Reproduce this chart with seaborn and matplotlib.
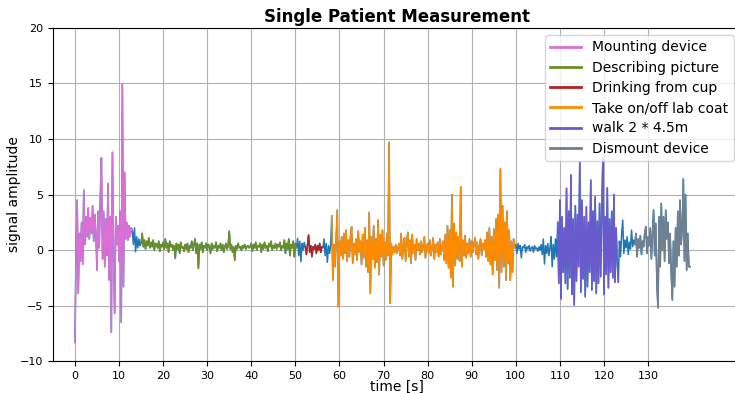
import numpy as np
import matplotlib
matplotlib.use("Agg")
import matplotlib.pyplot as plt
import seaborn as sns

# sampling step of the recording (s)
dt = 0.25

# signal pieces (one value every 0.25 s)
mounting = [-8.3, 0.0, 4.5, -3.9, 1.5, -1.0, 2.5, -1.3, 5.4, 0.5,
            3.0, 1.2, 3.8, 1.0, 2.9, 1.5, 4.0, 0.8, 3.2, 1.4,
            -1.8, 3.5, 0.2, 4.8, 8.3, -0.8, 3.5, -1.5, 2.8, -0.5,
            6.0, -2.7, 3.0, -7.4, 8.8, -0.5, -5.7, 3.0, 0.5, 2.2,
            -1.0, 3.5, -6.5, 14.9, -3.3, 7.0, 1.0, 2.5, 0.9, 2.2,
            1.2, 2.0]
gap1 = [1.8, 0.5, 2.0, -0.15, 1.2, 0.2, 1.0, 0.4]
describing = [0.6, 1.5, 0.3, 0.9, 0.1, 0.8, 0.4, 1.1, 0.2, 0.7,
              0.3, 0.9, 0.0, 0.6, 0.5, 0.2, 0.8, -0.1, 0.5, 0.3,
              0.7, 0.1, 1.0, 0.2, 0.6, -0.2, 0.8, 0.3, 0.5, 0.0,
              0.4, -0.75, 0.6, 0.1, 0.5, -0.3, 0.7, 0.2, 0.3, -0.1,
              0.5, 0.1, 0.6, -0.2, 0.4, 0.2, 0.8, 0.0, 0.5, 1.0,
              -0.3, 0.6, -1.65, 0.5, 0.1, 0.7, -0.2, 0.4, 0.2, 0.6,
              0.0, 0.5, 0.3, -0.3, 0.6, 0.1, 0.4, 0.2, 0.7, -0.1,
              0.4, 0.2, 0.6, 0.0, 0.5, -0.2, 0.3, 0.6, 0.1, 0.4,
              1.7, 0.1, 0.5, -0.2, 0.3, -0.9, 0.4, 0.1, 0.6, 0.2,
              0.3, 0.0, 0.4, 0.2, 0.5, 0.1, 0.3, 0.4, 0.2, 0.3,
              0.6, -0.1, 0.5, 0.2, 0.7, 0.0, 0.4, 0.3, 0.6, -0.2,
              0.5, 0.1, 0.7, 0.2, 0.4, -0.1, 0.6, 0.3, 0.8, 0.0,
              0.4, 0.2, 0.6, 0.1, 0.5, 0.3, 0.7, 0.0, 0.4, 0.2,
              0.9, -0.3, 0.6, 0.1, 1.0, -0.5, 0.5, 0.2, 0.8, -0.6,
              0.6, 0.2]
gap2 = [1.05, -0.5, 0.8, -1.05, 0.6, 0.0, 0.7]
drinking = [0.3, -0.4, 0.5, 1.36, -0.2, 0.4, -0.6, 0.3, 0.1, 0.5,
            -0.3, 0.4, 0.0, 0.6, -0.2, 0.3]
gap3 = [0.2, 1.0, -0.5, 0.6, -1.1, 0.4, -0.3, 0.5]
labcoat = [3.1, -2.7, 0.5, -1.5, 1.0, 3.6, -5.1,
           0.8, -0.5, 1.2, -0.8, 1.5, -0.3, 1.8, -1.0, 0.9, -0.6,
           1.3, 2.1, -1.2, 0.6, -0.4, 1.0, -0.9, 1.7, -0.2, 0.8,
           -1.3, 1.4, -0.7, 2.0, -1.5, 0.9, -2.0, 3.4, -3.9, 1.2,
           -0.8, 2.2, -1.6, 1.0, -1.1, 2.7, -2.2, 1.4, -0.6, 1.8,
           -1.4, 0.7, -0.9, 1.5, -0.5, 9.7, -4.8, 0.6, -0.4, 0.3,
           -0.2, 0.5, -0.3, 0.2, 0.6, -0.5, 1.5, -0.8, 0.4, 1.1,
           -1.0, 0.7, 1.6, -0.6, 0.9, -1.2, 1.4, -0.3, 0.5, -0.9,
           1.0, 0.0, 0.6, -0.4, 0.8, -0.2, 0.4, 1.2, -0.7, 0.3,
           0.6, -0.3, 0.9, -0.5, 0.2, 1.1, -0.8, 0.5, -0.2, 0.7,
           -0.6, 1.0, -0.4, 0.3, 0.8, -0.9, 1.4, -1.2, 2.2, -1.6,
           1.8, -2.5, 5.0, -3.3, 2.4, -1.4, 1.6, -0.8, 1.2, -1.0,
           5.7, -1.5, 0.9, -0.5, 1.3, -0.7, 0.6, -0.3, 1.0, -0.6,
           0.8, -0.2, 0.5, 1.1, -0.4, 0.7, -0.8, 0.4, 1.0, -0.5,
           0.6, 0.1, 0.9, -0.6, 1.6, -1.0, 2.0, -1.3, 1.2, -2.2,
           1.9, -0.9, 2.8, -1.8, 3.2, -3.4, 7.3, -2.0, 4.0, -1.5,
           2.5, -2.7, 3.5, -1.2, 1.8, -2.7, 0.8, -2.0, 1.0, 0.2]
gap4 = [0.5, -0.3, 0.6, 0.1, 0.4, -0.7, 0.3, 0.2, 0.5, -0.2,
        0.3, 0.1, 0.4, -0.1, 0.2, 0.3, -0.2, 0.4, 0.1, 0.2,
        -0.1, 0.3, 0.0, 0.5, -0.4, 1.0, -1.26, 0.4, -0.3, 0.6,
        -0.5, 0.2, 1.2, -1.5, 0.5, -0.8, 1.0, -0.6]
walk = [2.5, -3.0, 4.5, -4.4, 3.0, -2.0, 2.0, -3.0, 5.56, -3.5,
        3.5, -2.5, 6.76, -4.0, 2.8, -4.95, 4.0, -2.8, 3.2, -1.5,
        7.96, -3.8, 4.5, -2.6, 3.0, -4.2, 3.9, -3.3, 2.5, -2.0,
        6.3, -3.6, 3.5, -2.8, 4.8, -3.9, 2.6, -3.0, 4.2, -2.4,
        3.8, 8.3, -4.0, 3.0, -2.2, 5.6, -3.4, 2.8, -2.0, 3.5,
        -2.5, 5.0, -2.9, 2.0, -1.0, -2.9]
gap5 = [0.8, -0.6, 1.5, 2.7, -0.3, 0.9, 0.2, 1.2, -0.4, 0.7,
        0.1, 1.8, 0.3, 0.9]
dismount = [0.5, 1.5, -0.6, 1.0, 0.2, 1.3, -0.4, 0.8, 0.3, 1.6,
            2.1, -0.3, 1.2, 0.4, 2.0, -0.8, 1.5, 3.6, -0.5, 2.4,
            -3.0, -5.2, 3.0, -1.5, 4.2, 0.0, 3.0, -1.0, 3.6, 1.0,
            2.5, -1.2, 1.5, -2.0, -4.5, 0.8, -3.3, 2.0, -1.5, 3.5,
            -0.5, 4.5, 0.5, 2.0, 6.4, -1.0, 5.0, -1.8, 1.5, -1.5, -1.5]

# activities: label, start [s], end [s], colour
activities = ["Mounting device", "Describing picture", "Drinking from cup",
              "Take on/off lab coat", "walk 2 * 4.5m", "Dismount device"]
starts = [0.0, 15.0, 52.25, 58.25, 109.5, 127.0]
ends = [13.0, 50.25, 56.0, 99.75, 123.25, 139.5]
colors = ["orchid", "olivedrab", "firebrick", "darkorange", "slateblue", "slategray"]

signal = np.array(mounting + gap1 + describing + gap2 + drinking + gap3
                  + labcoat + gap4 + walk + gap5 + dismount)
t = np.arange(len(signal)) * dt

fig, ax = plt.subplots(figsize=(7.35, 3.93), dpi=100)
# axes runs a few pixels past the right edge, like the original crop
fig.subplots_adjust(left=0.072, right=1.0077, bottom=0.081, top=0.929)

# whole recording in default blue, activities drawn on top
sns.lineplot(x=t, y=signal, ax=ax, color="#1f77b4", linewidth=1.1)
for lab, s, e, c in zip(activities, starts, ends, colors):
    m = (t >= s) & (t <= e)
    sns.lineplot(x=t[m], y=signal[m], ax=ax, color=c, linewidth=1.1, label=lab)

ax.set_xlim(-5, 151)
ax.set_ylim(-10, 20)
ax.set_xticks(np.arange(0, 140, 10))
ax.set_yticks(np.arange(-10, 25, 5))
ax.tick_params(labelsize=8)
ax.grid(True, color="#b0b0b0", linewidth=0.8)
ax.set_axisbelow(True)
ax.spines["right"].set_visible(False)

ax.set_title("Single Patient Measurement", fontsize=12, fontweight="bold", pad=4)
ax.set_xlabel("time [s]", fontsize=10, labelpad=-1)
ax.set_ylabel("signal amplitude", fontsize=10, labelpad=-1)

leg = ax.legend(loc="upper right", fontsize=10, handlelength=2.2,
                borderaxespad=0.5, labelspacing=0.45)
for h in leg.get_lines():
    h.set_linewidth(2)

fig.savefig("out.png", dpi=100)
